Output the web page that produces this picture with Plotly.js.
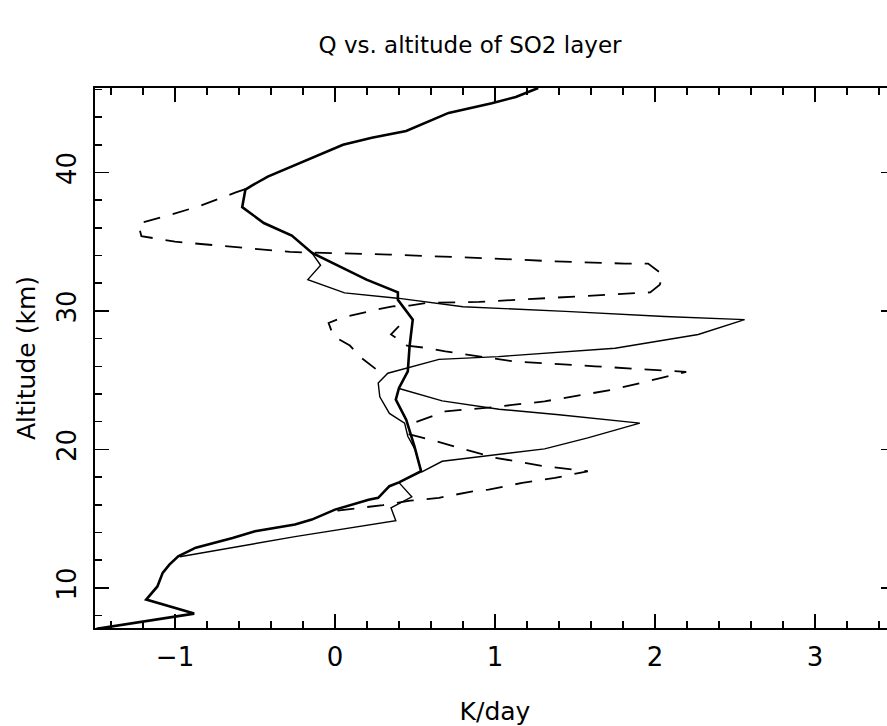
<!DOCTYPE html>
<html>
<head>
<meta charset="utf-8">
<script src="https://cdn.plot.ly/plotly-3.0.1.min.js"></script>
<style>
html, body { margin: 0; padding: 0; overflow: hidden; background: #fff; }
#chart { width: 900px; height: 726px; }
</style>
</head>
<body>
<div id="chart"></div>
<script>
// Baseline profile (thick solid)
var baseX = [1.27,1.13,0.98,0.71,0.445,0.23,0.05,-0.22,-0.42,-0.52,-0.56,-0.58,-0.445,-0.27,-0.145,0.197,0.393,0.393,0.486,0.466,0.455,0.40,0.38,0.445,0.497,0.538,0.40,0.34,0.27,0.21,0.0,-0.145,-0.25,-0.5,-0.64,-0.87,-0.98,-1.035,-1.077,-1.11,-1.18,-0.88,-1.49];
var baseY = [46.1,45.45,45.0,44.3,43.0,42.5,42.0,40.7,39.7,39.05,38.76,37.5,36.35,35.44,34.2,32.26,31.34,30.8,29.37,27.44,25.64,24.44,23.6,22.15,20.2,18.42,17.62,17.34,16.5,16.37,15.65,14.93,14.57,14.09,13.6,12.9,12.28,11.68,11.08,10.1,9.15,8.14,7.04];

// Thin solid profiles
var thin1X = [-0.145,-0.09,-0.17,0.06,0.39,0.80,1.44,2.06,2.56,2.27,1.75,1.02,0.65,0.47,0.33,0.27,0.28,0.34,0.435,0.455,0.5,0.54];
var thin1Y = [34.2,33.3,32.26,31.3,30.92,30.3,29.97,29.6,29.37,28.3,27.3,26.7,26.5,25.96,25.5,24.8,23.8,22.6,21.9,20.95,20.0,18.4];
var thin2X = [0.40,0.67,1.025,1.4,1.905,1.58,1.31,1.025,0.67,0.54];
var thin2Y = [24.4,23.5,22.9,22.5,21.9,20.83,20.04,19.62,19.14,18.35];
var thin3X = [0.40,0.48,0.35,0.38,-0.25,-0.97];
var thin3Y = [17.6,16.57,15.78,14.85,13.7,12.25];

// Dashed profiles
var dash1X = [-0.56,-0.62,-0.84,-1.025,-1.23,-1.21,-1.0,-0.69,-0.28,-0.07,0.34,0.96,1.377,1.81,1.957,2.05,2.03,1.97,1.52,1.11,0.90,0.57,0.466,0.36,0.26,0.04,-0.04,-0.01,0.093,0.166,0.26,0.28];
var dash1Y = [38.8,38.56,37.6,36.95,36.3,35.4,35.0,34.7,34.26,34.19,34.07,33.8,33.58,33.42,33.42,32.6,31.9,31.34,31.05,30.74,30.65,30.58,30.38,30.33,30.1,29.5,29.13,28.17,27.5,26.6,25.76,25.4];
var dash2X = [0.40,0.35,0.45,0.57,0.69,1.11,1.625,2.04,2.195,2.04,1.73,1.31,0.98,0.69,0.49];
var dash2Y = [28.9,28.3,27.5,27.33,27.08,26.36,26.0,25.7,25.6,25.16,24.3,23.47,23.04,22.75,21.9];
var dash3X = [0.46,0.59,0.80,1.0,1.31,1.52,1.58,1.375,1.17,0.96,0.86,0.65,0.47,0.3,0.1,0.0];
var dash3Y = [21.1,20.72,20.04,19.4,18.78,18.54,18.42,17.94,17.58,17.1,16.97,16.5,16.3,15.98,15.72,15.55];

var xTickVals = [-1, 0, 1, 2, 3];
var yTickVals = [10, 20, 30, 40];

var FONT = 'DejaVu Sans, sans-serif';
function line(x, y, w, dash) {
  return {x: x, y: y, type: 'scatter', mode: 'lines', hoverinfo: 'skip',
          line: {color: '#000', width: w, dash: dash || 'solid'}};
}
var traces = [
  line(thin1X, thin1Y, 1.4),
  line(thin2X, thin2Y, 1.4),
  line(thin3X, thin3Y, 1.4),
  line(dash1X, dash1Y, 1.8, '17px,13px'),
  line(dash2X, dash2Y, 1.8, '17px,13px'),
  line(dash3X, dash3Y, 1.8, '17px,13px'),
  line(baseX, baseY, 2.6)
];

var layout = {
  width: 900, height: 726,
  margin: {l: 95, r: 5, t: 88, b: 98},
  paper_bgcolor: '#fff', plot_bgcolor: '#fff',
  showlegend: false,
  hovermode: false,
  font: {family: FONT, color: '#000'},
  title: {text: 'Q vs. altitude of SO2 layer', font: {family: FONT, size: 23, color: '#000'},
          x: 470/900, xref: 'container', xanchor: 'center', y: 1 - 45/726, yref: 'container', yanchor: 'middle'},
  xaxis: {
    range: [-1.5, 3.5], showgrid: false, zeroline: false,
    showline: true, linecolor: '#000', linewidth: 2, mirror: 'ticks',
    ticks: 'inside', ticklen: 14, tickwidth: 1.5, tickcolor: '#000',
    tickvals: xTickVals, tickfont: {family: FONT, size: 26, color: '#000'}, ticklabelstandoff: 5,
    minor: {dtick: 0.2, tick0: 0, ticks: 'inside', ticklen: 7, tickwidth: 1.5, tickcolor: '#000', showgrid: false},
    title: {text: 'K/day', font: {family: FONT, size: 25, color: '#000'}, standoff: 33}
  },
  yaxis: {
    range: [7.1, 46.1], showgrid: false, zeroline: false,
    showline: true, linecolor: '#000', linewidth: 2, mirror: 'ticks',
    ticks: 'inside', ticklen: 14, tickwidth: 1.5, tickcolor: '#000',
    tickvals: yTickVals, tickangle: -90, tickfont: {family: FONT, size: 26, color: '#000'}, ticklabelstandoff: 7,
    minor: {dtick: 2, tick0: 0, ticks: 'inside', ticklen: 7, tickwidth: 1.5, tickcolor: '#000', showgrid: false},
    title: {text: 'Altitude (km)', font: {family: FONT, size: 25, color: '#000'}, standoff: 9}
  }
};

Plotly.newPlot('chart', traces, layout, {staticPlot: true, displayModeBar: false});
</script>
</body>
</html>
